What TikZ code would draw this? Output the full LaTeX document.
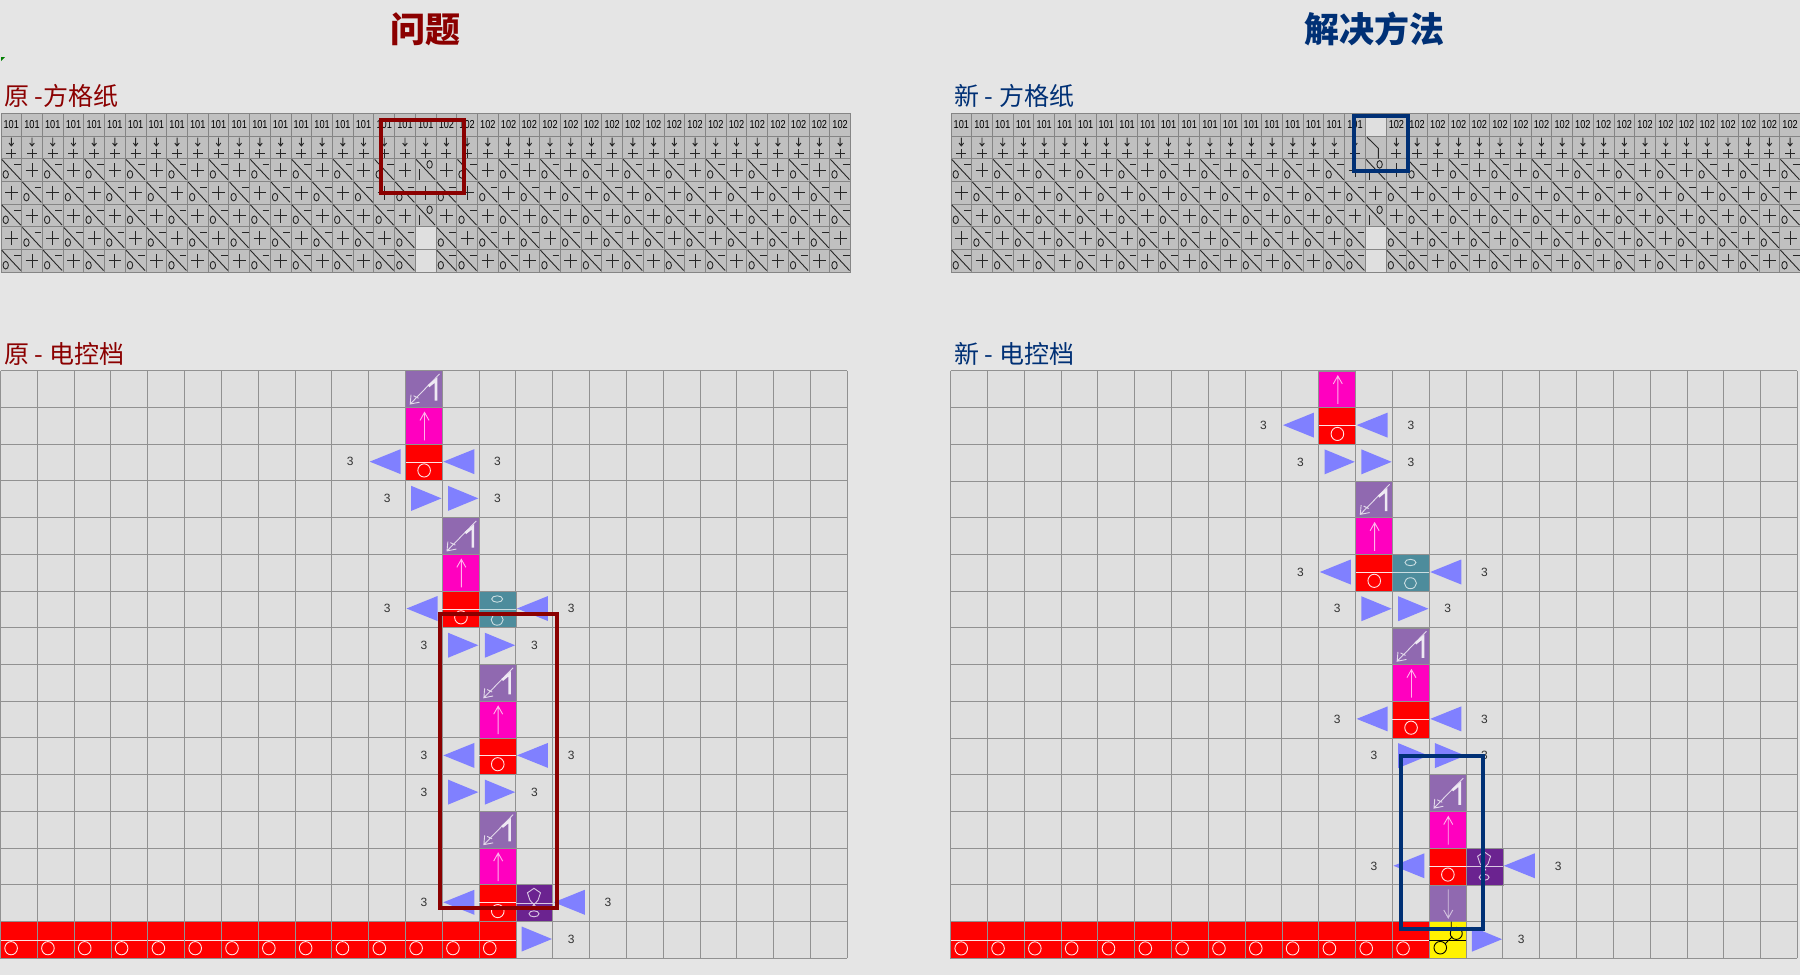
\documentclass[tikz,border=0pt]{standalone}
\usepackage{fontspec}
\usepackage{graphicx}
\setmainfont{Liberation Sans}
\newfontfamily\cjk{Noto Sans CJK SC}
\usetikzlibrary{calc}

\definecolor{pagegray}{HTML}{E5E5E5}
\definecolor{papergray}{HTML}{C0C0C0}
\definecolor{linegray}{HTML}{858585}
\definecolor{elecgray}{HTML}{DFDFDF}
\definecolor{elecline}{HTML}{919191}
\definecolor{oldred}{HTML}{8B0000}
\definecolor{newblue}{HTML}{003075}
\definecolor{purplecell}{HTML}{9069B0}
\definecolor{pinkcell}{HTML}{FF00BF}
\definecolor{tealcell}{HTML}{4D8C9C}
\definecolor{darkcell}{HTML}{6B2390}
\definecolor{trianglecol}{HTML}{8080FF}
\definecolor{tickgreen}{HTML}{008000}

\newcommand{\pw}{20.72}
\newcommand{\ph}{22.7}
\newcommand{\ew}{36.82}
\newcommand{\eh}{36.72}

\tikzset{
    maintitle/.style={font=\cjk\fontsize{35}{37}\selectfont\bfseries},
    subtitle/.style={font=\cjk\fontsize{25}{27}\selectfont, anchor=west},
    numlabel/.style={font=\fontsize{12}{12}\selectfont, text=black!80},
    paperlabel/.style={font=\fontsize{11.5}{12}\selectfont, text=black, inner sep=0pt},
    sym/.style={line width=0.9pt, draw=black!85},
    knot/.style={line width=0.9pt, draw=white!90!red},
    tri/.style={fill=trianglecol, draw=none},
    cellfill/.style={fill=#1, draw=elecline, line width=0.8pt},
    % symbols of the paper grid
    plussym/.pic={
        \draw[sym] (4,11.3) -- (16.7,11.3) (10.3,4.5) -- (10.3,18.5);
    },
    arrowplus/.pic={
        \draw[sym] (10.3,1.7) -- (10.3,10) (8,7) -- (10.3,10) -- (12.6,7);
        \draw[sym] (5.3,17.3) -- (15.3,17.3) (10.3,13.3) -- (10.3,21.5);
    },
    diagsym/.pic={
        \draw[sym] (0.7,0.7) -- (19.7,21);
        \draw[sym] (4.7,15.7) ellipse (2.7 and 3.8);
        \draw[sym] (13,6) -- (19.7,6);
    },
    specsym/.pic={
        \draw[sym] (0.7,0.7) -- (19.7,21);
        \draw[sym] (14.2,5.7) ellipse (2.7 and 3.8);
        \draw[sym] (3.7,10.7) -- (3.7,21);
    },
    kinksym/.pic={
        \draw[sym] (1.7,1.3) -- (13,12.3) -- (13,22.7);
    },
    % symbols of the electric grid
    updiag/.pic={
        \draw[cellfill=purplecell] (0,0) rectangle (\ew,\eh);
        \draw[white!75!purplecell, line width=0.9pt] (34,3.3) -- (4.7,33.3) (5.5,24) -- (4.7,33.3) -- (14,31.5) (8,25) -- (13,27.5);
        \draw[white!85!purplecell, line width=2.6pt] (23,15.5) -- (30.5,9.3) -- (30.5,30);
    },
    uparrow/.pic={
        \draw[cellfill=pinkcell] (0,0) rectangle (\ew,\eh);
        \draw[white!70!pinkcell, line width=0.9pt] (19,33) -- (19,5) (14.5,13) -- (19,5) -- (23.5,13);
    },
    downarrow/.pic={
        \draw[cellfill=purplecell] (0,0) rectangle (\ew,\eh);
        \draw[white!60!purplecell, line width=0.9pt] (19,4.3) -- (19,33) (14.5,25) -- (19,33) -- (23.5,25);
    },
    redmid/.pic={
        \draw[cellfill=red] (0,0) rectangle (\ew,\eh);
        \draw[knot] (0,18) -- (\ew,18);
        \draw[knot] (18.6,26.3) ellipse (6.3 and 6.6);
    },
    redlow/.pic={
        \draw[cellfill=red] (0,0) rectangle (\ew,\eh);
        \draw[knot] (0,19) -- (\ew,19);
        \draw[knot] (10.6,26.7) ellipse (6.3 and 6.6);
    },
    tealsym/.pic={
        \draw[cellfill=tealcell] (0,0) rectangle (\ew,\eh);
        \draw[white!70!tealcell, line width=0.9pt] (0,18) -- (\ew,18);
        \draw[white!70!tealcell, line width=0.9pt] (18,8) ellipse (5.5 and 3.2);
        \draw[white!70!tealcell, line width=0.9pt] (18,28.7) ellipse (6 and 5.5);
    },
    darksym/.pic={
        \draw[cellfill=darkcell] (0,0) rectangle (\ew,\eh);
        \draw[white!75!darkcell, line width=0.9pt] (0,18.5) -- (\ew,18.5);
        \draw[white!75!darkcell, line width=0.9pt] (14,15.5) -- (11.5,8) -- (18,3.5) -- (24.5,8) -- (22,15.5) -- (16,22) (14,15.5) -- (20,22);
        \draw[white!75!darkcell, line width=0.9pt] (18,29) ellipse (5 and 3);
    },
    yellowsym/.pic={
        \draw[cellfill=yellow] (0,0) rectangle (\ew,\eh);
        \draw[black, line width=0.9pt] (0,18.5) -- (\ew,18.5);
        \draw[black, line width=0.9pt] (11,26) circle (6.3);
        \draw[black, line width=0.9pt] (27,11.7) circle (6);
        \draw[black, line width=0.9pt] (22,0) -- (22,8) (16,22) -- (23,15);
    },
    triangleleft/.pic={
        \fill[tri] (1,17.5) -- (32,5) -- (32,30) -- cycle;
    },
    triangleright/.pic={
        \fill[tri] (5.7,5) -- (36,17.5) -- (5.7,30) -- cycle;
    },
}

% paper grid: x origin, 1 for the new version
\newcommand{\papergrid}[2]{
    \begin{scope}[shift={(#1,113.3)}]
        \fill[papergray] (0,0) rectangle (41*\pw,7*\ph);
        \foreach \r in {5,6}
            \fill[elecgray] (20*\pw,\r*\ph) rectangle (21*\pw,\r*\ph+\ph);
        \ifnum#2=1
            \fill[elecgray] (20*\pw,0) rectangle (21*\pw,\ph);
        \fi
        \foreach \c in {0,...,41}
            \draw[linegray, line width=1pt] (\c*\pw,0) -- (\c*\pw,7*\ph);
        \foreach \r in {0,...,7}
            \draw[linegray, line width=1pt] (0,\r*\ph) -- (41*\pw,\r*\ph);
        \foreach \c in {0,...,40}{
            % first two rows
            \ifnum\c<20
                \node[paperlabel] (label-\c) at (\c*\pw+10.3,11.3) {\scalebox{0.8}[1]{101}};
                \pic at (\c*\pw,\ph) {arrowplus};
            \else
                \ifnum\c=20
                    \ifnum#2=1
                        \pic at (\c*\pw,\ph) {kinksym};
                    \else
                        \node[paperlabel] (label-\c) at (\c*\pw+10.3,11.3) {\scalebox{0.8}[1]{101}};
                        \pic at (\c*\pw,\ph) {arrowplus};
                    \fi
                \else
                    \node[paperlabel] (label-\c) at (\c*\pw+10.3,11.3) {\scalebox{0.8}[1]{102}};
                    \pic at (\c*\pw,\ph) {arrowplus};
                \fi
            \fi
            % rows three and five
            \foreach \r in {2,4}{
                \ifnum\c=20
                    \pic at (\c*\pw,\r*\ph) {specsym};
                \else
                    \ifodd\c
                        \pic at (\c*\pw,\r*\ph) {plussym};
                    \else
                        \pic at (\c*\pw,\r*\ph) {diagsym};
                    \fi
                \fi
            }
            % row four
            \ifodd\c
                \pic at (\c*\pw,3*\ph) {diagsym};
            \else
                \pic at (\c*\pw,3*\ph) {plussym};
            \fi
            % rows six and seven have the gap
            \ifnum\c=20 \else
                \ifodd\c
                    \pic at (\c*\pw,5*\ph) {diagsym};
                \else
                    \pic at (\c*\pw,5*\ph) {plussym};
                \fi
                \ifnum\c=19
                    \pic at (\c*\pw,6*\ph) {diagsym};
                \else
                    \ifnum\c=21
                        \pic at (\c*\pw,6*\ph) {diagsym};
                    \else
                        \ifodd\c
                            \pic at (\c*\pw,6*\ph) {plussym};
                        \else
                            \pic at (\c*\pw,6*\ph) {diagsym};
                        \fi
                    \fi
                \fi
            \fi
        }
    \end{scope}
}

\newcommand{\elecgrid}{
    \fill[elecgray] (0,0) rectangle (23*\ew,16*\eh);
    \foreach \c in {0,...,23}
        \draw[elecline, line width=1pt] (\c*\ew,0) -- (\c*\ew,16*\eh);
    \foreach \r in {0,...,16}
        \draw[elecline, line width=1pt] (0,\r*\eh) -- (23*\ew,\r*\eh);
}
\newcommand{\putsym}[2]{
    \foreach \c/\r in {#2}
        \pic at (\c*\ew,\r*\eh) {#1};
}
\newcommand{\putnum}[1]{
    \foreach \c/\r in {#1}
        \node[numlabel] (num-\c-\r) at (\c*\ew+18.4,\r*\eh+17.6) {3};
}

\begin{document}
\begin{tikzpicture}[x=1pt,y=-1pt]
    \useasboundingbox (0,0) rectangle (1800,975);
    \fill[pagegray] (0,0) rectangle (1800,975);
    \fill[tickgreen] (1,57) -- (5,57) -- (1,61) -- cycle;

    \node[maintitle, text=oldred] (oldtitle) at (425,29) {问题};
    \node[maintitle, text=newblue] (newtitle) at (1374,29) {解决方法};
    \node[subtitle, text=oldred, inner sep=0pt] (oldpaper) at (4,96) {原 -方格纸};
    \node[subtitle, text=newblue, inner sep=0pt] (newpaper) at (954,96) {新 - 方格纸};
    \node[subtitle, text=oldred, inner sep=0pt] (oldelec) at (4,353.5) {原 - 电控档};
    \node[subtitle, text=newblue, inner sep=0pt] (newelec) at (954,353.5) {新 - 电控档};

    \begin{scope}[name prefix=oldp-]
        \papergrid{1}{0}
    \end{scope}
    \begin{scope}[name prefix=newp-]
        \papergrid{951}{1}
    \end{scope}

    % old electric grid
    \begin{scope}[shift={(0.5,370.7)}, name prefix=olde-]
        \elecgrid
        \foreach \c in {0,...,13}
            \pic at (\c*\ew,15*\eh) {redlow};
        \putsym{updiag}{11/0,12/4,13/8,13/12}
        \putsym{uparrow}{11/1,12/5,13/9,13/13}
        \putsym{redmid}{11/2,12/6,13/10,13/14}
        \putsym{tealsym}{13/6}
        \putsym{darksym}{14/14}
        \putsym{triangleleft}{10/2,12/2,11/6,14/6,12/10,14/10,12/14,15/14}
        \putsym{triangleright}{11/3,12/3,12/7,13/7,12/11,13/11,14/15}
        \putnum{9/2,13/2,10/3,13/3,10/6,15/6,11/7,14/7,11/10,15/10,11/11,14/11,11/14,16/14,15/15}
    \end{scope}

    % new electric grid
    \begin{scope}[shift={(950.6,370.9)}, name prefix=newe-]
        \elecgrid
        \foreach \c in {0,...,12}
            \pic at (\c*\ew,15*\eh) {redlow};
        \putsym{updiag}{11/3,12/7,13/11}
        \putsym{uparrow}{10/0,11/4,12/8,13/12}
        \putsym{redmid}{10/1,11/5,12/9,13/13}
        \putsym{tealsym}{12/5}
        \putsym{darksym}{14/13}
        \putsym{downarrow}{13/14}
        \putsym{yellowsym}{13/15}
        \putsym{triangleleft}{9/1,11/1,10/5,13/5,11/9,13/9,12/13,15/13}
        \putsym{triangleright}{10/2,11/2,11/6,12/6,12/10,13/10,14/15}
        \putnum{8/1,12/1,9/2,12/2,9/5,14/5,10/6,13/6,10/9,14/9,11/10,14/10,11/13,16/13,15/15}
    \end{scope}

    % highlight frames
    \draw[oldred, line width=4pt] (380.5,120) rectangle (463.5,193);
    \draw[newblue, line width=4pt] (1353.7,116) rectangle (1408,171);
    \draw[oldred, line width=4pt] (439.5,613.5) rectangle (556.7,907.7);
    \draw[newblue, line width=4pt] (1400.5,756) rectangle (1483,928.7);
\end{tikzpicture}
\end{document}
